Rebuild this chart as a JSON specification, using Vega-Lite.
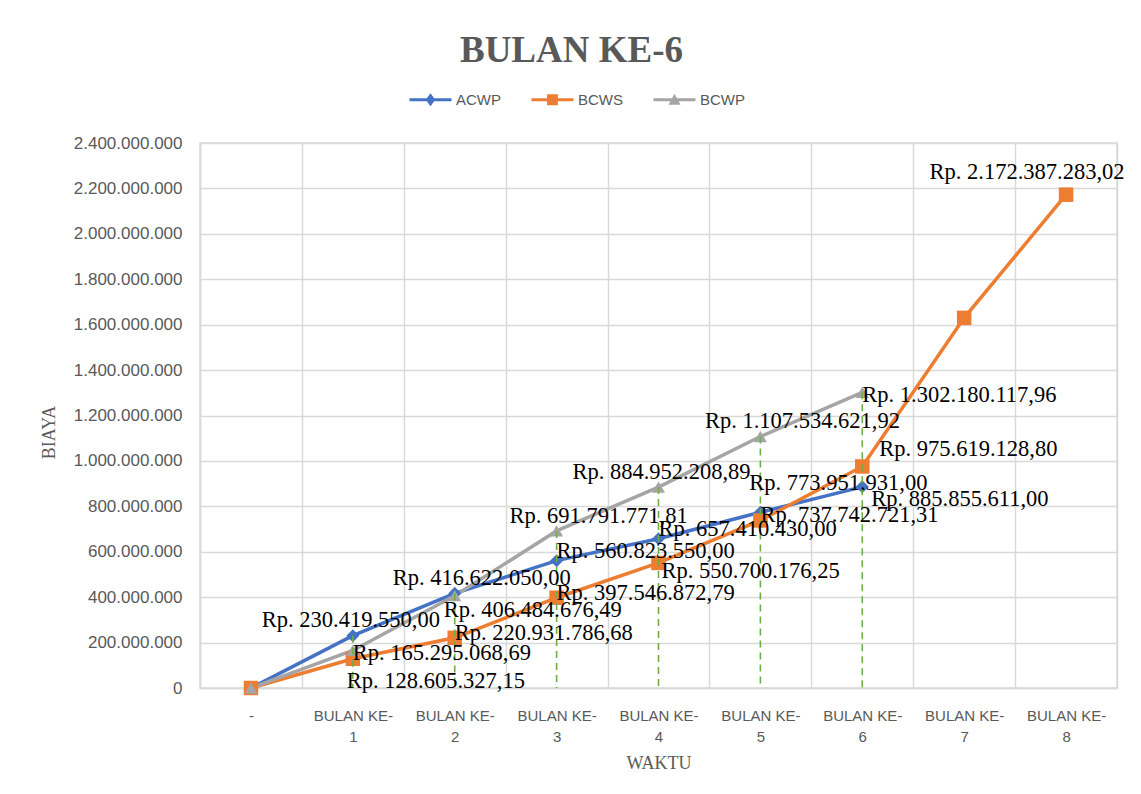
{
  "$schema": "https://vega.github.io/schema/vega-lite/v6.json",
  "width": 917,
  "height": 545,
  "autosize": "none",
  "padding": {"left": 200, "top": 143, "right": 24, "bottom": 106},
  "background": "white",
  "config": {
    "locale": {"number": {"decimal": ",", "thousands": ".", "grouping": [3], "currency": ["Rp. ", ""]}},
    "view": {"stroke": "#D9D9D9", "strokeWidth": 1.5}
  },
  "title": {
    "text": "BULAN KE-6",
    "font": "Liberation Serif",
    "fontSize": 37,
    "fontWeight": "bold",
    "color": "#595959",
    "anchor": "middle",
    "dx": -87,
    "baseline": "alphabetic",
    "offset": -7
  },
  "data": {
    "values": [
      {"waktu": 0, "seri": "ACWP", "biaya": 0},
      {"waktu": 1, "seri": "ACWP", "biaya": 230419550.00},
      {"waktu": 2, "seri": "ACWP", "biaya": 416622050.00},
      {"waktu": 3, "seri": "ACWP", "biaya": 560823550.00},
      {"waktu": 4, "seri": "ACWP", "biaya": 657410430.00},
      {"waktu": 5, "seri": "ACWP", "biaya": 773951931.00},
      {"waktu": 6, "seri": "ACWP", "biaya": 885855611.00},
      {"waktu": 0, "seri": "BCWS", "biaya": 0},
      {"waktu": 1, "seri": "BCWS", "biaya": 128605327.15},
      {"waktu": 2, "seri": "BCWS", "biaya": 220931786.68},
      {"waktu": 3, "seri": "BCWS", "biaya": 397546872.79},
      {"waktu": 4, "seri": "BCWS", "biaya": 550700176.25},
      {"waktu": 5, "seri": "BCWS", "biaya": 737742721.31},
      {"waktu": 6, "seri": "BCWS", "biaya": 975619128.80},
      {"waktu": 7, "seri": "BCWS", "biaya": 1630000000},
      {"waktu": 8, "seri": "BCWS", "biaya": 2172387283.02},
      {"waktu": 0, "seri": "BCWP", "biaya": 0},
      {"waktu": 1, "seri": "BCWP", "biaya": 165295068.69},
      {"waktu": 2, "seri": "BCWP", "biaya": 406484676.49},
      {"waktu": 3, "seri": "BCWP", "biaya": 691791771.81},
      {"waktu": 4, "seri": "BCWP", "biaya": 884952208.89},
      {"waktu": 5, "seri": "BCWP", "biaya": 1107534621.92},
      {"waktu": 6, "seri": "BCWP", "biaya": 1302180117.96}
    ]
  },
  "encoding": {
    "x": {
      "field": "waktu",
      "type": "quantitative",
      "scale": {"domain": [-0.5, 8.5], "nice": false, "zero": false},
      "axis": {
        "values": [-0.5, 0, 0.5, 1, 1.5, 2, 2.5, 3, 3.5, 4, 4.5, 5, 5.5, 6, 6.5, 7, 7.5, 8, 8.5],
        "labelExpr": "datum.value % 1 !== 0 ? '' : (datum.value === 0 ? '-' : ['BULAN KE-', '' + datum.value])",
        "labelOverlap": false,
        "labelFlush": false,
        "labelFont": "Liberation Sans",
        "labelFontSize": 15,
        "labelColor": "#595959",
        "labelPadding": 20,
        "labelLineHeight": 21,
        "ticks": false,
        "domainColor": "#D9D9D9",
        "domainWidth": 1.5,
        "grid": true,
        "gridColor": "#D9D9D9",
        "gridWidth": 1.5,
        "gridOpacity": {"condition": {"test": "datum.value % 1 !== 0", "value": 1}, "value": 0},
        "title": "WAKTU",
        "titleFont": "Liberation Serif",
        "titleFontSize": 18,
        "titleFontWeight": "normal",
        "titleColor": "#595959",
        "titleBaseline": "middle",
        "titleY": 75
      }
    },
    "y": {
      "field": "biaya",
      "type": "quantitative",
      "scale": {"domain": [0, 2400000000], "nice": false},
      "axis": {
        "values": [0, 200000000, 400000000, 600000000, 800000000, 1000000000, 1200000000, 1400000000, 1600000000, 1800000000, 2000000000, 2200000000, 2400000000],
        "format": ",d",
        "labelFont": "Liberation Sans",
        "labelFontSize": 17,
        "labelColor": "#595959",
        "labelPadding": 18,
        "ticks": false,
        "domainColor": "#D9D9D9",
        "domainWidth": 1.5,
        "gridColor": "#D9D9D9",
        "gridWidth": 1.5,
        "title": "BIAYA",
        "titleFont": "Liberation Serif",
        "titleFontSize": 18,
        "titleFontWeight": "normal",
        "titleColor": "#595959",
        "titleX": -142,
        "titleY": 289
      }
    }
  },
  "layer": [
    {
      "mark": {"type": "line", "strokeWidth": 3.5},
      "encoding": {
        "color": {
          "field": "seri",
          "type": "nominal",
          "scale": {"domain": ["ACWP", "BCWS", "BCWP"], "range": ["#4472C4", "#ED7D31", "#A5A5A5"]},
          "legend": {
            "orient": "none",
            "legendX": 223,
            "legendY": -51,
            "direction": "horizontal",
            "title": null,
            "labelFont": "Liberation Sans",
            "labelFontSize": 15,
            "labelColor": "#595959",
            "symbolSize": 144,
            "labelOffset": 18,
            "columnPadding": 30,
            "encode": {
              "symbols": {
                "update": {
                  "shape": {"signal": "datum.value === 'ACWP' ? 'M-3.5,-0.25H3.5V0.25H-3.5Z M0,-1.1L0.8,0L0,1.1L-0.8,0Z' : (datum.value === 'BCWS' ? 'M-3.5,-0.25H3.5V0.25H-3.5Z M-0.9,-0.9H0.9V0.9H-0.9Z' : 'M-3.5,-0.25H3.5V0.25H-3.5Z M0,-1L1,0.85H-1Z')"},
                  "fill": {"scale": "color", "field": "value"},
                  "stroke": {"value": "transparent"},
                  "strokeWidth": {"value": 0},
                  "opacity": {"value": 1}
                }
              }
            }
          }
        }
      }
    },
    {
      "transform": [{"filter": {"field": "seri", "equal": "ACWP"}}],
      "mark": {"type": "point", "filled": true, "opacity": 1, "size": 170, "shape": "diamond"},
      "encoding": {"color": {"field": "seri", "type": "nominal"}}
    },
    {
      "transform": [{"filter": {"field": "seri", "equal": "BCWS"}}],
      "mark": {"type": "point", "filled": true, "opacity": 1, "size": 210, "shape": "square"},
      "encoding": {"color": {"field": "seri", "type": "nominal"}}
    },
    {
      "transform": [{"filter": {"field": "seri", "equal": "BCWP"}}],
      "mark": {"type": "point", "filled": true, "opacity": 1, "size": 170, "shape": "triangle-up"},
      "encoding": {"color": {"field": "seri", "type": "nominal"}}
    },
    {
      "transform": [
        {"filter": {"field": "waktu", "range": [1, 6]}},
        {"aggregate": [{"op": "max", "field": "biaya", "as": "tinggi"}], "groupby": ["waktu"]}
      ],
      "mark": {"type": "rule", "color": "#70AD47", "strokeWidth": 1.6, "strokeDash": [7, 5]},
      "encoding": {"y": {"field": "tinggi", "type": "quantitative"}, "y2": {"datum": 0}}
    },
    {
      "transform": [{"filter": {"and": [{"field": "seri", "equal": "ACWP"}, {"field": "waktu", "oneOf": [1]}]}}],
      "mark": {"type": "text", "font": "Liberation Serif", "fontSize": 22.5, "color": "#000000", "baseline": "middle", "align": "center", "dx": -2, "dy": -16},
      "encoding": {"text": {"field": "biaya", "type": "quantitative", "format": "$,.2f"}}
    },
    {
      "transform": [{"filter": {"and": [{"field": "seri", "equal": "ACWP"}, {"field": "waktu", "oneOf": [2]}]}}],
      "mark": {"type": "text", "font": "Liberation Serif", "fontSize": 22.5, "color": "#000000", "baseline": "middle", "align": "center", "dx": 27, "dy": -15},
      "encoding": {"text": {"field": "biaya", "type": "quantitative", "format": "$,.2f"}}
    },
    {
      "transform": [{"filter": {"and": [{"field": "seri", "equal": "ACWP"}, {"field": "waktu", "oneOf": [3, 4]}]}}],
      "mark": {"type": "text", "font": "Liberation Serif", "fontSize": 22.5, "color": "#000000", "baseline": "middle", "align": "left", "dx": 0, "dy": -10},
      "encoding": {"text": {"field": "biaya", "type": "quantitative", "format": "$,.2f"}}
    },
    {
      "transform": [{"filter": {"and": [{"field": "seri", "equal": "ACWP"}, {"field": "waktu", "oneOf": [5]}]}}],
      "mark": {"type": "text", "font": "Liberation Serif", "fontSize": 22.5, "color": "#000000", "baseline": "middle", "align": "center", "dx": 78, "dy": -29},
      "encoding": {"text": {"field": "biaya", "type": "quantitative", "format": "$,.2f"}}
    },
    {
      "transform": [{"filter": {"and": [{"field": "seri", "equal": "ACWP"}, {"field": "waktu", "oneOf": [6]}]}}],
      "mark": {"type": "text", "font": "Liberation Serif", "fontSize": 22.5, "color": "#000000", "baseline": "middle", "align": "left", "dx": 9, "dy": 12},
      "encoding": {"text": {"field": "biaya", "type": "quantitative", "format": "$,.2f"}}
    },
    {
      "transform": [{"filter": {"and": [{"field": "seri", "equal": "BCWS"}, {"field": "waktu", "oneOf": [1]}]}}],
      "mark": {"type": "text", "font": "Liberation Serif", "fontSize": 22.5, "color": "#000000", "baseline": "middle", "align": "left", "dx": -6, "dy": 22},
      "encoding": {"text": {"field": "biaya", "type": "quantitative", "format": "$,.2f"}}
    },
    {
      "transform": [{"filter": {"and": [{"field": "seri", "equal": "BCWS"}, {"field": "waktu", "oneOf": [2, 3, 5]}]}}],
      "mark": {"type": "text", "font": "Liberation Serif", "fontSize": 22.5, "color": "#000000", "baseline": "middle", "align": "left", "dx": 0, "dy": -5},
      "encoding": {"text": {"field": "biaya", "type": "quantitative", "format": "$,.2f"}}
    },
    {
      "transform": [{"filter": {"and": [{"field": "seri", "equal": "BCWS"}, {"field": "waktu", "oneOf": [4]}]}}],
      "mark": {"type": "text", "font": "Liberation Serif", "fontSize": 22.5, "color": "#000000", "baseline": "middle", "align": "left", "dx": 3, "dy": 8},
      "encoding": {"text": {"field": "biaya", "type": "quantitative", "format": "$,.2f"}}
    },
    {
      "transform": [{"filter": {"and": [{"field": "seri", "equal": "BCWS"}, {"field": "waktu", "oneOf": [6]}]}}],
      "mark": {"type": "text", "font": "Liberation Serif", "fontSize": 22.5, "color": "#000000", "baseline": "middle", "align": "left", "dx": 17, "dy": -17},
      "encoding": {"text": {"field": "biaya", "type": "quantitative", "format": "$,.2f"}}
    },
    {
      "transform": [{"filter": {"and": [{"field": "seri", "equal": "BCWS"}, {"field": "waktu", "oneOf": [8]}]}}],
      "mark": {"type": "text", "font": "Liberation Serif", "fontSize": 22.5, "color": "#000000", "baseline": "middle", "align": "center", "dx": -39, "dy": -23},
      "encoding": {"text": {"field": "biaya", "type": "quantitative", "format": "$,.2f"}}
    },
    {
      "transform": [{"filter": {"and": [{"field": "seri", "equal": "BCWP"}, {"field": "waktu", "oneOf": [1, 6]}]}}],
      "mark": {"type": "text", "font": "Liberation Serif", "fontSize": 22.5, "color": "#000000", "baseline": "middle", "align": "left", "dx": 0, "dy": 3},
      "encoding": {"text": {"field": "biaya", "type": "quantitative", "format": "$,.2f"}}
    },
    {
      "transform": [{"filter": {"and": [{"field": "seri", "equal": "BCWP"}, {"field": "waktu", "oneOf": [2]}]}}],
      "mark": {"type": "text", "font": "Liberation Serif", "fontSize": 22.5, "color": "#000000", "baseline": "middle", "align": "left", "dx": -11, "dy": 14},
      "encoding": {"text": {"field": "biaya", "type": "quantitative", "format": "$,.2f"}}
    },
    {
      "transform": [{"filter": {"and": [{"field": "seri", "equal": "BCWP"}, {"field": "waktu", "oneOf": [3, 5]}]}}],
      "mark": {"type": "text", "font": "Liberation Serif", "fontSize": 22.5, "color": "#000000", "baseline": "middle", "align": "center", "dx": 42, "dy": -15},
      "encoding": {"text": {"field": "biaya", "type": "quantitative", "format": "$,.2f"}}
    },
    {
      "transform": [{"filter": {"and": [{"field": "seri", "equal": "BCWP"}, {"field": "waktu", "oneOf": [4]}]}}],
      "mark": {"type": "text", "font": "Liberation Serif", "fontSize": 22.5, "color": "#000000", "baseline": "middle", "align": "center", "dx": 3, "dy": -15},
      "encoding": {"text": {"field": "biaya", "type": "quantitative", "format": "$,.2f"}}
    }
  ]
}
